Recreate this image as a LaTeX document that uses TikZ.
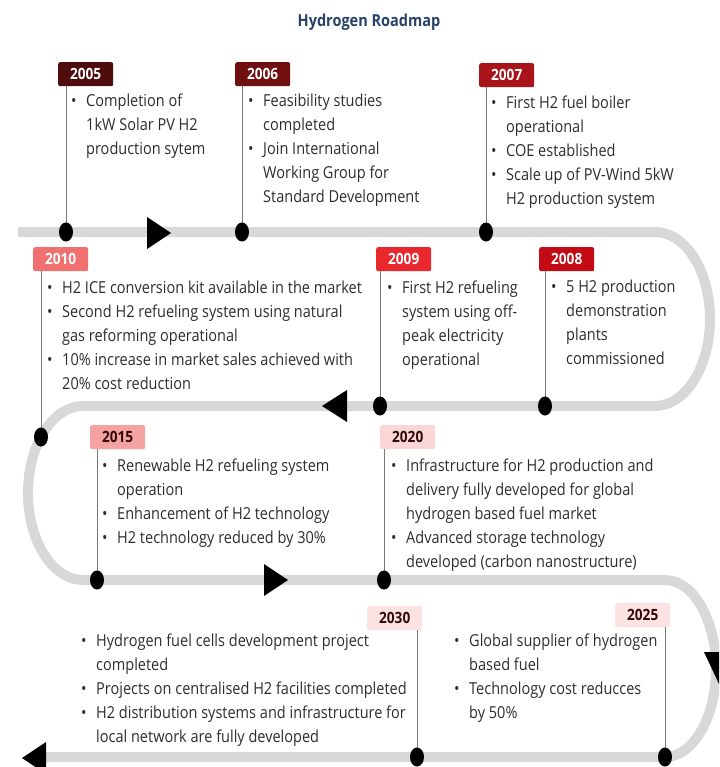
\documentclass[tikz,border=0pt]{standalone}
\usepackage{fontspec}
\setmainfont[FakeStretch=0.88]{Open Sans}
\usetikzlibrary{shapes.geometric}
\definecolor{trackgray}{RGB}{216,216,216}
\definecolor{conngray}{RGB}{120,120,120}
\definecolor{txt}{RGB}{45,45,45}
\definecolor{titleblue}{RGB}{38,66,105}
\definecolor{c2005}{RGB}{78,12,12}
\definecolor{c2006}{RGB}{112,16,16}
\definecolor{c2007}{RGB}{168,20,26}
\definecolor{c2008}{RGB}{196,10,20}
\definecolor{c2009}{RGB}{232,40,44}
\definecolor{c2010}{RGB}{240,112,112}
\definecolor{c2015}{RGB}{245,162,162}
\definecolor{c2020}{RGB}{250,214,214}
\definecolor{c2030}{RGB}{252,226,226}
\definecolor{darktxt}{RGB}{50,10,10}
\newcommand\bul{\makebox[15pt][l]{\textbullet}}
\newcommand\ind{\hspace*{15pt}}
\begin{document}
\begin{tikzpicture}[x=1pt,y=-1pt,
  track/.style={line width=10pt, draw=trackgray},
  conn/.style={draw=conngray, line width=1pt},
  dot/.style={ellipse, fill=black, minimum width=14pt, minimum height=19pt, inner sep=0pt},
  yr/.style={rounded corners=2pt, minimum width=55pt, minimum height=24pt, inner sep=0pt,
    font=\fontsize{15.5}{15.5}\selectfont\bfseries, text=white, anchor=north west},
  blk/.style={anchor=north west, inner sep=0pt, align=left, font=\fontsize{16.5}{24}\selectfont, text=txt},
  tip/.style={fill=black}]
\useasboundingbox (0,0) rectangle (719,767);
\clip (0,0) rectangle (719,767);

% title
\node[font=\fontsize{16.5}{16.5}\selectfont\bfseries, text=titleblue] (title) at (369,22) {Hydrogen Roadmap};

% track
\draw[track] (18,232) -- (655,232)
  arc[start angle=90, end angle=-90, x radius=55pt, y radius=87pt]
  -- (83,406)
  arc[start angle=90, end angle=270, x radius=55pt, y radius=87pt]
  -- (665,580)
  arc[start angle=90, end angle=-90, x radius=51pt, y radius=88.5pt]
  -- (40,757);

% direction arrows
\fill[tip] (147,217) -- (147,249) -- (171,233) -- cycle;
\fill[tip] (347,390) -- (347,422) -- (322,406) -- cycle;
\fill[tip] (264,564) -- (264,596) -- (288,580) -- cycle;
\fill[tip] (704,652) -- (734,652) -- (719,684) -- cycle;
\fill[tip] (46,742) -- (46,774) -- (22,758) -- cycle;

% year labels
\node[yr, fill=c2005] (y2005) at (58,62) {2005};
\node[yr, fill=c2006] (y2006) at (235,62) {2006};
\node[yr, fill=c2007] (y2007) at (479,63) {2007};
\node[yr, fill=c2010] (y2010) at (33,247) {2010};
\node[yr, fill=c2009] (y2009) at (376,247) {2009};
\node[yr, fill=c2008] (y2008) at (539,247) {2008};
\node[yr, fill=c2015, text=darktxt] (y2015) at (90,425) {2015};
\node[yr, fill=c2020, text=darktxt] (y2020) at (380,425) {2020};
\node[yr, fill=c2030, text=darktxt] (y2030) at (367,606) {2030};
\node[yr, fill=c2030, text=darktxt] (y2025) at (615,603) {2025};

% dots (positions on track)
\coordinate (p2005) at (66,232);
\coordinate (p2006) at (242,232);
\coordinate (p2007) at (486,232);
\coordinate (p2010) at (41,437);
\coordinate (p2009) at (380,406);
\coordinate (p2008) at (545,406);
\coordinate (p2015) at (97,580);
\coordinate (p2020) at (384,580);
\coordinate (p2030) at (417,757);
\coordinate (p2025) at (665,757);

\foreach \yy in {2005,2006,2007,2010,2009,2008,2015,2020,2030,2025}{
  \draw[conn] (y\yy.south -| p\yy) -- (p\yy);
  \node[dot] (d\yy) at (p\yy) {};
}

% text blocks
\node[blk] (b2005) at (71,89.2) {\strut\bul Completion of\\\ind 1kW Solar PV H2\\\ind production sytem};
\node[blk] (b2006) at (248,89.2) {\strut\bul Feasibility studies\\\ind completed\\\bul Join International\\\ind Working Group for\\\ind Standard Development};
\node[blk] (b2007) at (491,91.2) {\strut\bul First H2 fuel boiler\\\ind operational\\\bul COE established\\\bul Scale up of PV-Wind 5kW\\\ind H2 production system};
\node[blk] (b2010) at (47,276.2) {\strut\bul H2 ICE conversion kit available in the market\\\bul Second H2 refueling system using natural\\\ind gas reforming operational\\\bul 10\% increase in market sales achieved with\\\ind 20\% cost reduction};
\node[blk] (b2009) at (387,276.2) {\strut\bul First H2 refueling\\\ind system using off-\\\ind peak electricity\\\ind operational};
\node[blk] (b2008) at (551,275.2) {\strut\bul 5 H2 production\\\ind demonstration\\\ind plants\\\ind commissioned};
\node[blk] (b2015) at (102,454.2) {\strut\bul Renewable H2 refueling system\\\ind operation\\\bul Enhancement of H2 technology\\\bul H2 technology reduced by 30\%};
\node[blk] (b2020) at (391,454.2) {\strut\bul Infrastructure for H2 production and\\\ind delivery fully developed for global\\\ind hydrogen based fuel market\\\bul Advanced storage technology\\\ind developed (carbon nanostructure)};
\node[blk] (b2030) at (81,629.2) {\strut\bul Hydrogen fuel cells development project\\\ind completed\\\bul Projects on centralised H2 facilities completed\\\bul H2 distribution systems and infrastructure for\\\ind local network are fully developed};
\node[blk] (b2025) at (454,629.2) {\strut\bul Global supplier of hydrogen\\\ind based fuel\\\bul Technology cost reducces\\\ind by 50\%};
\end{tikzpicture}
\end{document}
